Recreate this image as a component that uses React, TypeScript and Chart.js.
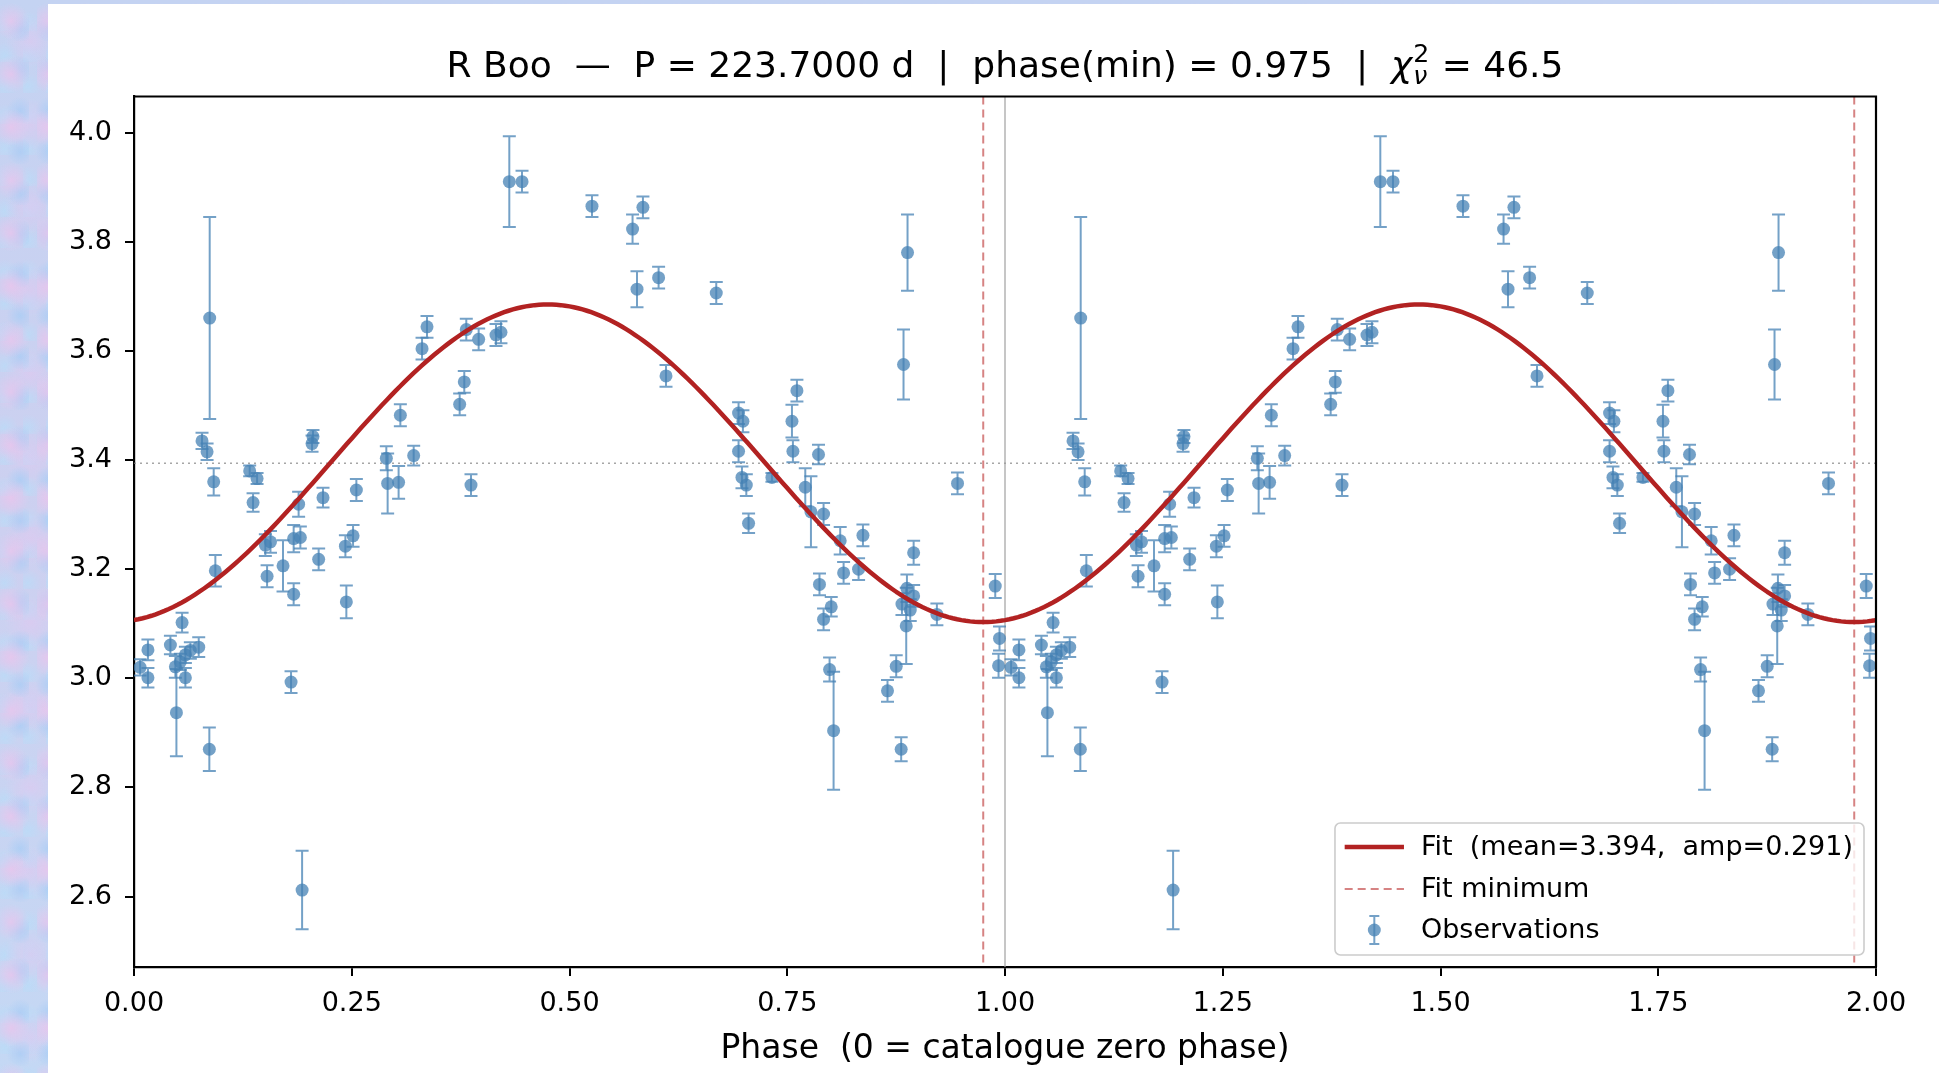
import React, { useEffect, useRef } from "react";
import { Chart, registerables } from "chart.js";

Chart.register(...registerables);

// ---- Data (phase in [0,1), magnitude, 1-sigma error) ----
const PHASE = [
  0.007, 0.016, 0.016, 0.0418, 0.0475, 0.0487, 0.0532, 0.0552, 0.059, 0.059,
  0.0647, 0.0743, 0.0781, 0.0839, 0.0865, 0.0869, 0.0915, 0.0934, 0.1328, 0.1367,
  0.1413, 0.1508, 0.1528, 0.1567, 0.1711, 0.1803, 0.1833, 0.1833, 0.189, 0.191,
  0.193, 0.2044, 0.2055, 0.212, 0.217, 0.2427, 0.2438, 0.2515, 0.2553, 0.2897,
  0.2912, 0.3038, 0.3058, 0.3211, 0.3307, 0.3364, 0.3739, 0.3792, 0.3815, 0.3869,
  0.3957, 0.4156, 0.4213, 0.4309, 0.4455, 0.5258, 0.5724, 0.5775, 0.5843, 0.6023,
  0.6108, 0.6685, 0.6941, 0.6991, 0.6941, 0.698, 0.703, 0.7056, 0.7324, 0.7554,
  0.7565, 0.7611, 0.7707, 0.7772, 0.7859, 0.787, 0.7917, 0.7917, 0.7986, 0.8005,
  0.8032, 0.8108, 0.8147, 0.8319, 0.8369, 0.8651, 0.8751, 0.8808, 0.8817, 0.8835,
  0.8866, 0.8874, 0.8881, 0.8912, 0.8951, 0.8951, 0.9218, 0.9455, 0.9888, 0.9926,
  0.9937,
];
const MAG = [
  3.020, 3.052, 3.001, 3.061, 3.021, 2.937, 3.030, 3.102, 3.043, 3.001,
  3.051, 3.057, 3.435, 3.415, 2.870, 3.660, 3.360, 3.197, 3.380, 3.322,
  3.366, 3.244, 3.187, 3.250, 3.206, 2.993, 3.256, 3.154, 3.319, 3.258,
  2.612, 3.430, 3.443, 3.218, 3.331, 3.242, 3.140, 3.261, 3.345, 3.403,
  3.357, 3.359, 3.482, 3.408, 3.604, 3.644, 3.502, 3.543, 3.639, 3.354,
  3.621, 3.629, 3.634, 3.910, 3.910, 3.865, 3.823, 3.713, 3.863, 3.734,
  3.554, 3.706, 3.486, 3.471, 3.416, 3.368, 3.354, 3.284, 3.368, 3.471,
  3.416, 3.527, 3.350, 3.305, 3.410, 3.172, 3.301, 3.108, 3.016, 3.131,
  2.904, 3.252, 3.193, 3.200, 3.262, 2.977, 3.022, 2.870, 3.136, 3.575,
  3.096, 3.165, 3.780, 3.125, 3.151, 3.230, 3.117, 3.357, 3.169, 3.023,
  3.073,
];
const ERR = [
  0.015, 0.019, 0.018, 0.017, 0.020, 0.080, 0.015, 0.018, 0.015, 0.018,
  0.015, 0.018, 0.015, 0.015, 0.040, 0.185, 0.025, 0.029, 0.010, 0.017,
  0.010, 0.020, 0.020, 0.020, 0.047, 0.020, 0.025, 0.020, 0.023, 0.020,
  0.072, 0.015, 0.012, 0.020, 0.018, 0.020, 0.030, 0.020, 0.020, 0.022,
  0.055, 0.030, 0.020, 0.018, 0.020, 0.020, 0.020, 0.020, 0.020, 0.020,
  0.020, 0.020, 0.020, 0.083, 0.020, 0.020, 0.027, 0.033, 0.020, 0.020,
  0.020, 0.020, 0.020, 0.020, 0.020, 0.020, 0.020, 0.018, 0.008, 0.030,
  0.020, 0.020, 0.035, 0.065, 0.018, 0.020, 0.020, 0.020, 0.022, 0.018,
  0.108, 0.025, 0.020, 0.020, 0.020, 0.020, 0.020, 0.022, 0.020, 0.064,
  0.070, 0.025, 0.070, 0.020, 0.020, 0.022, 0.020, 0.020, 0.022, 0.022,
  0.022,
];

const X_TICKS = [0, 0.25, 0.5, 0.75, 1.0, 1.25, 1.5, 1.75, 2.0];
const Y_TICKS = [2.6, 2.8, 3.0, 3.2, 3.4, 3.6, 3.8, 4.0];
const X_RANGE = [0, 2];
const Y_RANGE = [2.471, 4.066];

const STAR = "R Boo";
const PERIOD = "223.7000";
const PHASE_MIN = 0.975;
const FIT_MEAN = 3.394;
const FIT_AMP = 0.291;
const CHI2 = "46.5";
const X_LABEL = "Phase  (0 = catalogue zero phase)";
const LEGEND_LABELS = [
  "Fit  (mean=3.394,  amp=0.291)",
  "Fit minimum",
  "Observations",
];

// Model curve sampled from the stated fit parameters
const FIT_SAMPLES = Array.from({ length: 401 }, (_, i) => (i / 400) * 2);

const FONT = "'DejaVu Sans', 'Liberation Sans', sans-serif";
const OBS_COLOR = "rgba(70,130,180,0.75)";
const FIT_COLOR = "#b22222";
const MIN_COLOR = "rgba(200,90,90,0.75)";

const refLinesPlugin = {
  id: "refLines",
  beforeDatasetsDraw(chart: any) {
    const { ctx, chartArea: a, scales } = chart;
    const x = scales.x, y = scales.y;
    ctx.save();
    ctx.beginPath();
    ctx.rect(a.left, a.top, a.right - a.left, a.bottom - a.top);
    ctx.clip();
    const ym = y.getPixelForValue(FIT_MEAN);
    ctx.strokeStyle = "rgba(128,128,128,0.7)";
    ctx.lineWidth = 1.6;
    ctx.setLineDash([2, 4]);
    ctx.beginPath();
    ctx.moveTo(a.left, ym);
    ctx.lineTo(a.right, ym);
    ctx.stroke();
    ctx.setLineDash([]);
    ctx.strokeStyle = "rgba(160,160,160,0.6)";
    ctx.lineWidth = 2;
    const x1 = x.getPixelForValue(1.0);
    ctx.beginPath();
    ctx.moveTo(x1, a.top);
    ctx.lineTo(x1, a.bottom);
    ctx.stroke();
    ctx.strokeStyle = MIN_COLOR;
    ctx.lineWidth = 2;
    ctx.setLineDash([8, 5]);
    [PHASE_MIN, PHASE_MIN + 1].forEach((p) => {
      const px = x.getPixelForValue(p);
      ctx.beginPath();
      ctx.moveTo(px, a.top);
      ctx.lineTo(px, a.bottom);
      ctx.stroke();
    });
    ctx.restore();
  },
};

const errorBarPlugin = {
  id: "errorBars",
  beforeDatasetDraw(chart: any, args: any) {
    const ds = chart.data.datasets[args.index];
    if (!ds.errors) return;
    const { ctx, chartArea: a, scales } = chart;
    const x = scales.x, y = scales.y;
    ctx.save();
    ctx.beginPath();
    ctx.rect(a.left, a.top, a.right - a.left, a.bottom - a.top);
    ctx.clip();
    ctx.strokeStyle = OBS_COLOR;
    ctx.lineWidth = 2;
    const cap = 6.5;
    ds.data.forEach((p: any, i: number) => {
      const e = ds.errors[i];
      const px = x.getPixelForValue(p.x);
      const y1 = y.getPixelForValue(p.y + e);
      const y2 = y.getPixelForValue(p.y - e);
      ctx.beginPath();
      ctx.moveTo(px, y1);
      ctx.lineTo(px, y2);
      ctx.moveTo(px - cap, y1);
      ctx.lineTo(px + cap, y1);
      ctx.moveTo(px - cap, y2);
      ctx.lineTo(px + cap, y2);
      ctx.stroke();
    });
    ctx.restore();
  },
};

const decorPlugin = {
  id: "decor",
  afterDraw(chart: any) {
    const { ctx, chartArea: a } = chart;
    ctx.save();
    ctx.strokeStyle = "#000";
    ctx.lineWidth = 2.2;
    ctx.beginPath();
    ctx.moveTo(a.left, a.top);
    ctx.lineTo(a.right, a.top);
    ctx.lineTo(a.right, a.bottom);
    ctx.stroke();

    const cx = (a.left + a.right) / 2;
    // title with mathtext chi^2_nu
    const fs = 36;
    const main = `${STAR}  \u2014  P = ${PERIOD} d  |  phase(min) = ${PHASE_MIN.toFixed(3)}  |  `;
    const tail = ` = ${CHI2}`;
    ctx.fillStyle = "#000";
    ctx.textBaseline = "alphabetic";
    ctx.textAlign = "left";
    ctx.font = `${fs}px ${FONT}`;
    const wMain = ctx.measureText(main).width;
    const wTail = ctx.measureText(tail).width;
    ctx.font = `italic ${fs}px ${FONT}`;
    const wChi = ctx.measureText("\u03C7").width;
    ctx.font = `${fs * 0.7}px ${FONT}`;
    const wSup = ctx.measureText("2").width;
    ctx.font = `italic ${fs * 0.7}px ${FONT}`;
    const wSub = ctx.measureText("\u03BD").width;
    const wScript = Math.max(wSup, wSub) + 2;
    const total = wMain + wChi + wScript + wTail;
    let tx = cx - total / 2;
    const ty = 73;
    ctx.font = `${fs}px ${FONT}`;
    ctx.fillText(main, tx, ty);
    tx += wMain;
    ctx.font = `italic ${fs}px ${FONT}`;
    ctx.fillText("\u03C7", tx, ty);
    tx += wChi + 1;
    ctx.font = `${fs * 0.7}px ${FONT}`;
    ctx.fillText("2", tx, ty - fs * 0.42);
    ctx.font = `italic ${fs * 0.7}px ${FONT}`;
    ctx.fillText("\u03BD", tx, ty + fs * 0.2);
    tx += wScript - 1;
    ctx.font = `${fs}px ${FONT}`;
    ctx.fillText(tail, tx, ty);

    // x-axis label
    ctx.font = `33px ${FONT}`;
    ctx.textAlign = "center";
    ctx.fillText(X_LABEL, cx, 1054);

    // legend
    const lfs = 27;
    ctx.font = `${lfs}px ${FONT}`;
    const maxW = Math.max(...LEGEND_LABELS.map((t) => ctx.measureText(t).width));
    const pad = 12;
    const w = 86 + maxW + 11;
    const h = 132;
    const x0 = a.right - pad - w;
    const y0 = a.bottom - pad - h;
    ctx.beginPath();
    ctx.roundRect(x0, y0, w, h, 5.4);
    ctx.fillStyle = "rgba(255,255,255,0.8)";
    ctx.fill();
    ctx.strokeStyle = "rgba(204,204,204,1)";
    ctx.lineWidth = 1.6;
    ctx.stroke();
    const rows = [y0 + 24, y0 + 66, y0 + 107];
    const hx0 = x0 + 9.7, hx1 = x0 + 69;
    ctx.strokeStyle = FIT_COLOR;
    ctx.lineWidth = 4.5;
    ctx.beginPath();
    ctx.moveTo(hx0, rows[0]);
    ctx.lineTo(hx1, rows[0]);
    ctx.stroke();
    ctx.strokeStyle = MIN_COLOR;
    ctx.lineWidth = 2;
    ctx.setLineDash([8, 5]);
    ctx.beginPath();
    ctx.moveTo(hx0, rows[1]);
    ctx.lineTo(hx1, rows[1]);
    ctx.stroke();
    ctx.setLineDash([]);
    const hc = (hx0 + hx1) / 2;
    ctx.strokeStyle = OBS_COLOR;
    ctx.lineWidth = 2;
    ctx.beginPath();
    ctx.moveTo(hc, rows[2] - 14);
    ctx.lineTo(hc, rows[2] + 14);
    ctx.moveTo(hc - 5, rows[2] - 14);
    ctx.lineTo(hc + 5, rows[2] - 14);
    ctx.moveTo(hc - 5, rows[2] + 14);
    ctx.lineTo(hc + 5, rows[2] + 14);
    ctx.stroke();
    ctx.fillStyle = OBS_COLOR;
    ctx.beginPath();
    ctx.arc(hc, rows[2], 6.5, 0, Math.PI * 2);
    ctx.fill();
    ctx.fillStyle = "#000";
    ctx.textAlign = "left";
    ctx.textBaseline = "middle";
    LEGEND_LABELS.forEach((t, i) => ctx.fillText(t, x0 + 86, rows[i] + 1));
    ctx.restore();
  },
};

export default function App() {
  const ref = useRef<HTMLCanvasElement>(null);

  useEffect(() => {
    const canvas = ref.current;
    if (!canvas) return;
    const obsData = [
      ...PHASE.map((p, i) => ({ x: p, y: MAG[i] })),
      ...PHASE.map((p, i) => ({ x: p + 1, y: MAG[i] })),
    ];
    const obsErr = [...ERR, ...ERR];
    const fitData = FIT_SAMPLES.map((p) => ({
      x: p,
      y: FIT_MEAN - FIT_AMP * Math.cos(2 * Math.PI * (p - PHASE_MIN)),
    }));

    const tickFont = { family: FONT, size: 27 };
    const chart = new Chart(canvas, {
      type: "scatter",
      data: {
        datasets: [
          {
            label: "Observations",
            data: obsData,
            errors: obsErr,
            backgroundColor: OBS_COLOR,
            borderWidth: 0,
            pointRadius: 6.5,
            pointHoverRadius: 6.5,
            clip: 0,
            order: 2,
          } as any,
          {
            type: "line",
            label: "Fit",
            data: fitData,
            borderColor: FIT_COLOR,
            borderWidth: 4.5,
            pointRadius: 0,
            tension: 0,
            fill: false,
            clip: 0,
            order: 1,
          } as any,
        ],
      },
      options: {
        animation: false,
        responsive: false,
        maintainAspectRatio: false,
        devicePixelRatio: 1,
        layout: { padding: { left: 0, right: 63, top: 92.5, bottom: 0 } },
        plugins: {
          legend: { display: false },
          title: { display: false },
          tooltip: { enabled: false },
        },
        scales: {
          x: {
            type: "linear",
            min: X_RANGE[0],
            max: X_RANGE[1],
            afterBuildTicks: (s: any) => {
              s.ticks = X_TICKS.map((v) => ({ value: v }));
            },
            afterFit: (s: any) => {
              s.height = 106;
            },
            ticks: {
              callback: (v: any) => Number(v).toFixed(2),
              font: tickFont,
              color: "#000",
              padding: 12,
              maxRotation: 0,
              autoSkip: false,
            },
            grid: {
              drawOnChartArea: false,
              drawTicks: true,
              tickLength: 9,
              color: "#000",
              lineWidth: 2,
            },
            border: { display: true, color: "#000", width: 2.2 },
          },
          y: {
            type: "linear",
            min: Y_RANGE[0],
            max: Y_RANGE[1],
            afterBuildTicks: (s: any) => {
              s.ticks = Y_TICKS.map((v) => ({ value: v }));
            },
            afterFit: (s: any) => {
              s.width = 86;
            },
            ticks: {
              callback: (v: any) => Number(v).toFixed(1),
              font: tickFont,
              color: "#000",
              padding: 13,
              autoSkip: false,
            },
            grid: {
              drawOnChartArea: false,
              drawTicks: true,
              tickLength: 9,
              color: "#000",
              lineWidth: 2,
            },
            border: { display: true, color: "#000", width: 2.2 },
          },
        },
      } as any,
      plugins: [refLinesPlugin, errorBarPlugin, decorPlugin],
    });
    return () => chart.destroy();
  }, []);

  // mottled pastel texture for the page behind the figure
  const bgImage = [
    "radial-gradient(circle at 30% 40%, rgba(236,196,236,0.75), rgba(236,196,236,0) 45%)",
    "radial-gradient(circle at 70% 70%, rgba(170,205,245,0.8), rgba(170,205,245,0) 40%)",
    "radial-gradient(circle at 50% 50%, rgba(225,200,240,0.6), rgba(225,200,240,0) 50%)",
    "radial-gradient(circle at 20% 80%, rgba(185,220,248,0.7), rgba(185,220,248,0) 45%)",
    "linear-gradient(180deg, #c4d3f2, #cdd0f0 50%, #c4d8f4)",
  ].join(",");

  return (
    <div
      style={{
        position: "fixed",
        left: 0,
        top: 0,
        width: 1939,
        height: 1073,
        backgroundColor: "#c8d4f2",
        backgroundImage: bgImage,
        backgroundSize: "37px 53px, 29px 41px, 61px 83px, 23px 31px, 100% 100%",
        overflow: "hidden",
      }}
    >
      <div
        style={{
          position: "absolute",
          left: 48,
          top: 4,
          width: 1891,
          height: 1069,
          background: "#ffffff",
        }}
      >
        <canvas
          ref={ref}
          width={1891}
          height={1069}
          style={{ width: 1891, height: 1069, display: "block" }}
        />
      </div>
    </div>
  );
}
